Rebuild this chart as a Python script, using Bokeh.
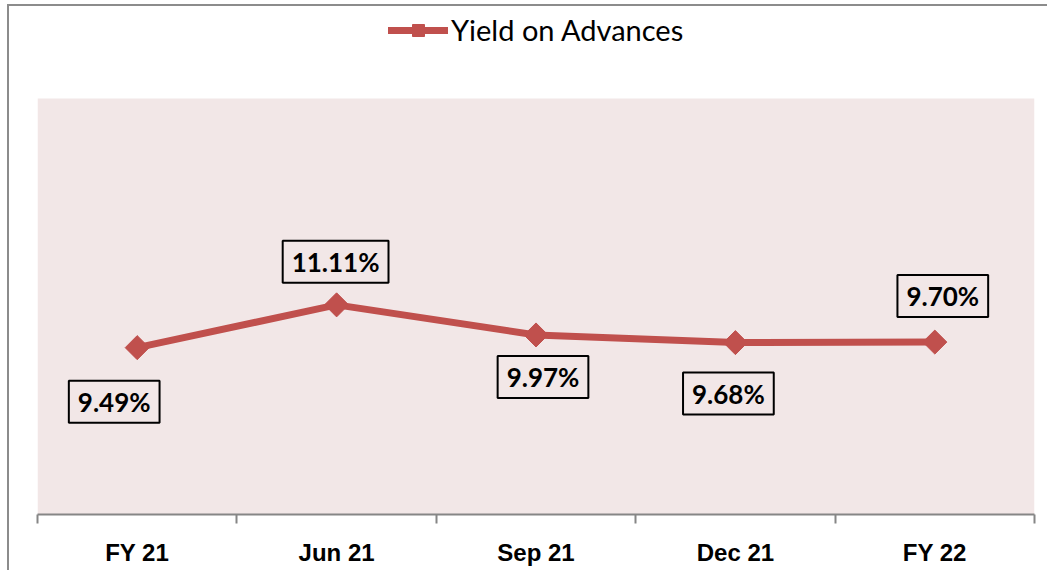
import numpy as np
from bokeh.plotting import figure
from bokeh.models import (ColumnDataSource, Range1d, LinearAxis, FixedTicker,
                          Label, Legend, LegendItem, BoxAnnotation)
from bokeh.embed import file_html
from bokeh.resources import INLINE

# ---- data ----
categories = ["FY 21", "Jun 21", "Sep 21", "Dec 21", "FY 22"]
yield_on_advances = [9.49, 11.11, 9.97, 9.68, 9.70]
series_name = "Yield on Advances"

# ---- label placement (style) ----
label_dx = [-23, -1, 7, -7, 8]
label_dy = [-54, 43, -42, -51, 46]

RED = "#C0504D"
GRAY = "#868686"
PINK = "#F2E7E7"

x_pos = np.arange(len(categories)) + 0.5
src = ColumnDataSource(dict(x=x_pos, y=yield_on_advances))

p = figure(width=1040, height=566, output_backend="svg", toolbar_location=None,
           x_range=Range1d(0, len(categories)), y_range=Range1d(3.17, 22.41),
           x_axis_type=None, y_axis_type=None,
           min_border_left=28, min_border_right=15, min_border_top=0,
           min_border_bottom=58)
p.background_fill_color = "white"
p.border_fill_color = "white"
p.outline_line_color = None
p.grid.visible = False
p.styles = {"margin-left": "7px", "margin-top": "4px",
            "border-left": "2px solid #8c8c8c", "border-top": "2px solid #8c8c8c"}

# pink plot-area background
p.add_layout(BoxAnnotation(top=416, top_units="screen", fill_color=PINK, fill_alpha=1,
                           line_color=None, level="underlay"))

xaxis = LinearAxis(ticker=FixedTicker(ticks=list(x_pos),
                                      minor_ticks=list(range(len(categories) + 1))))
xaxis.major_label_overrides = {float(v): c for v, c in zip(x_pos, categories)}
xaxis.axis_line_color = GRAY
xaxis.axis_line_width = 2
xaxis.major_tick_line_color = None
xaxis.major_tick_out = 0
xaxis.major_tick_in = 0
xaxis.minor_tick_line_color = GRAY
xaxis.minor_tick_line_width = 2
xaxis.minor_tick_out = 9
xaxis.minor_tick_in = 0
xaxis.major_label_standoff = 15
xaxis.major_label_text_font = "Liberation Sans"
xaxis.major_label_text_font_style = "bold"
xaxis.major_label_text_font_size = "24px"
xaxis.major_label_text_color = "black"
p.add_layout(xaxis, "below")

ln = p.line("x", "y", source=src, line_color=RED, line_width=7,
            line_cap="round", line_join="round")
mk = p.scatter("x", "y", source=src, marker="square", size=17, angle=np.pi / 4,
               fill_color=RED, line_color=RED)

for xv, yv, dx, dy in zip(x_pos, yield_on_advances, label_dx, label_dy):
    p.add_layout(Label(x=xv, y=yv, x_offset=dx, y_offset=dy,
                       text=f"{yv:.2f}%", text_align="center", text_baseline="middle",
                       text_font="Lato", text_font_style="bold",
                       text_font_size="26px", text_color="black",
                       border_line_color="black", border_line_width=2,
                       background_fill_color=None,
                       padding=dict(left=9, right=9, top=5, bottom=5)))

legend = Legend(items=[LegendItem(label=series_name, renderers=[ln, mk])],
                location=(351, 467), orientation="horizontal",
                glyph_width=60, glyph_height=30, label_height=30,
                label_standoff=3, padding=0, margin=0, spacing=0,
                border_line_color=None, background_fill_alpha=0,
                label_text_font="Lato", label_text_font_size="29px",
                label_text_color="black")
p.add_layout(legend, "center")

open("out.html", "w").write(file_html(p, INLINE))
